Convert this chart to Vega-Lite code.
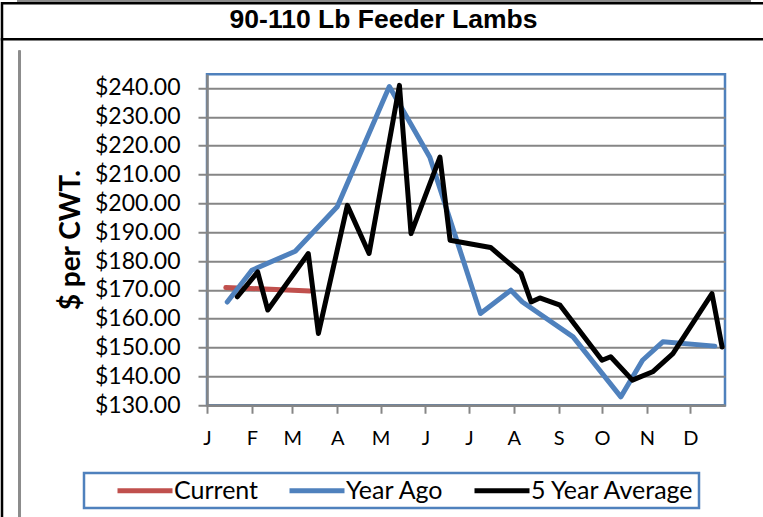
{
  "$schema": "https://vega.github.io/schema/vega-lite/v6.json",
  "padding": {"left": 0, "top": 0, "right": 0, "bottom": 0},
  "background": "white",
  "config": {
    "view": {"stroke": null},
    "font": "Lato"
  },
  "datasets": {
    "titleRow": [{"t": "90-110 Lb Feeder Lambs"}],
    "empty": [],
    "prices": [
      {"series": "Current", "date": "2019-01-14", "value": 170.8},
      {"series": "Current", "date": "2019-02-10", "value": 170.3},
      {"series": "Current", "date": "2019-03-13", "value": 169.6},
      {"series": "Year Ago", "date": "2019-01-15", "value": 165.8},
      {"series": "Year Ago", "date": "2019-02-01", "value": 176.8},
      {"series": "Year Ago", "date": "2019-03-03", "value": 183.4},
      {"series": "Year Ago", "date": "2019-04-01", "value": 198.8},
      {"series": "Year Ago", "date": "2019-05-07", "value": 240.5},
      {"series": "Year Ago", "date": "2019-06-04", "value": 216.0},
      {"series": "Year Ago", "date": "2019-07-09", "value": 161.8},
      {"series": "Year Ago", "date": "2019-07-30", "value": 169.9},
      {"series": "Year Ago", "date": "2019-08-07", "value": 165.8},
      {"series": "Year Ago", "date": "2019-09-11", "value": 153.7},
      {"series": "Year Ago", "date": "2019-10-14", "value": 132.9},
      {"series": "Year Ago", "date": "2019-10-29", "value": 145.6},
      {"series": "Year Ago", "date": "2019-11-12", "value": 152.0},
      {"series": "Year Ago", "date": "2019-12-18", "value": 150.5},
      {"series": "5 Year Average", "date": "2019-01-22", "value": 167.6},
      {"series": "5 Year Average", "date": "2019-02-05", "value": 176.2},
      {"series": "5 Year Average", "date": "2019-02-12", "value": 163.0},
      {"series": "5 Year Average", "date": "2019-03-12", "value": 182.6},
      {"series": "5 Year Average", "date": "2019-03-19", "value": 154.9},
      {"series": "5 Year Average", "date": "2019-04-08", "value": 199.3},
      {"series": "5 Year Average", "date": "2019-04-23", "value": 182.6},
      {"series": "5 Year Average", "date": "2019-05-14", "value": 240.9},
      {"series": "5 Year Average", "date": "2019-05-22", "value": 189.5},
      {"series": "5 Year Average", "date": "2019-06-11", "value": 216.0},
      {"series": "5 Year Average", "date": "2019-06-18", "value": 187.2},
      {"series": "5 Year Average", "date": "2019-07-16", "value": 184.7},
      {"series": "5 Year Average", "date": "2019-08-06", "value": 175.7},
      {"series": "5 Year Average", "date": "2019-08-13", "value": 165.8},
      {"series": "5 Year Average", "date": "2019-08-19", "value": 167.2},
      {"series": "5 Year Average", "date": "2019-09-02", "value": 164.7},
      {"series": "5 Year Average", "date": "2019-10-01", "value": 145.6},
      {"series": "5 Year Average", "date": "2019-10-07", "value": 146.8},
      {"series": "5 Year Average", "date": "2019-10-22", "value": 138.7},
      {"series": "5 Year Average", "date": "2019-11-05", "value": 141.6},
      {"series": "5 Year Average", "date": "2019-11-19", "value": 147.9},
      {"series": "5 Year Average", "date": "2019-12-16", "value": 168.7},
      {"series": "5 Year Average", "date": "2019-12-23", "value": 150.2}
    ]
  },
  "bounds": "flush",
  "spacing": 2.25,
  "vconcat": [
    {
      "bounds": "flush",
      "spacing": 0,
      "hconcat": [
        {"data": {"name": "empty"}, "width": 15.75, "height": 0.01, "view": {"stroke": null}, "mark": {"type": "point", "opacity": 0}, "encoding": {}},
        {"data": {"name": "empty"}, "width": 732, "height": 0.01, "view": {"stroke": "#8c8c8c", "strokeWidth": 2}, "mark": {"type": "point", "opacity": 0}, "encoding": {}}
      ]
    },
    {
      "bounds": "flush",
      "spacing": 0,
      "vconcat": [
        {
          "data": {"name": "titleRow"},
          "width": 763,
          "height": 36,
          "view": {"stroke": "black", "strokeWidth": 2.5},
          "mark": {"type": "text", "font": "Liberation Sans", "fontWeight": "bold", "fontSize": 26.5, "color": "black", "baseline": "middle", "align": "center", "dy": -1.5},
          "encoding": {"text": {"field": "t", "type": "nominal"}}
        },
        {
          "bounds": "flush",
          "spacing": 0,
          "hconcat": [
            {"data": {"name": "empty"}, "width": 0.01, "height": 500, "view": {"stroke": "black", "strokeWidth": 2.5}, "mark": {"type": "point", "opacity": 0}, "encoding": {}},
            {"data": {"name": "empty"}, "width": 15.74, "height": 1, "view": {"stroke": null}, "mark": {"type": "point", "opacity": 0}, "encoding": {}},
            {
              "bounds": "flush",
              "spacing": 0,
              "vconcat": [
                {"data": {"name": "empty"}, "width": 1, "height": 12, "view": {"stroke": null}, "mark": {"type": "point", "opacity": 0}, "encoding": {}},
                {
                  "bounds": "flush",
                  "spacing": 0,
                  "hconcat": [
                    {"data": {"name": "empty"}, "width": 0.01, "height": 480, "view": {"stroke": "#8c8c8c", "strokeWidth": 2}, "mark": {"type": "point", "opacity": 0}, "encoding": {}},
                    {
                      "bounds": "flush",
                      "spacing": 0,
                      "vconcat": [
                        {"data": {"name": "empty"}, "width": 733, "height": 22.75, "view": {"stroke": null}, "mark": {"type": "point", "opacity": 0}, "encoding": {}},
                        {
                          "bounds": "flush",
                          "spacing": 0,
                          "hconcat": [
                            {"data": {"name": "empty"}, "width": 187, "height": 331, "view": {"stroke": null}, "mark": {"type": "point", "opacity": 0}, "encoding": {}},
                            {
                              "data": {"name": "prices"},
                              "width": 518,
                              "height": 331,
                              "view": {"stroke": "#4f81bd", "strokeWidth": 2.5},
                              "mark": {"type": "line", "strokeWidth": 5, "strokeJoin": "round", "strokeCap": "round"},
                              "encoding": {
                                "x": {
                                  "field": "date",
                                  "type": "temporal",
                                  "scale": {
                                    "type": "utc",
                                    "domain": [
                                      {"year": 2019, "month": 1, "date": 1, "utc": true},
                                      {"year": 2019, "month": 12, "date": 25, "utc": true}
                                    ]
                                  },
                                  "axis": {
                                    "title": null,
                                    "tickCount": {"interval": "month", "step": 1},
                                    "format": "%b",
                                    "labelExpr": "substring(datum.label, 0, 1)",
                                    "labelFlush": false,
                                    "labelOverlap": false,
                                    "labelFont": "Lato",
                                    "labelFontSize": 20,
                                    "labelColor": "black",
                                    "labelPadding": 15,
                                    "tickSize": 8,
                                    "tickWidth": 2,
                                    "tickColor": "#868686",
                                    "domainColor": "#868686",
                                    "domainWidth": 2.5,
                                    "grid": false
                                  }
                                },
                                "y": {
                                  "field": "value",
                                  "type": "quantitative",
                                  "scale": {"domain": [130, 244.75], "nice": false, "zero": false},
                                  "axis": {
                                    "title": "$ per CWT.",
                                    "titleFont": "Lato",
                                    "titleFontWeight": "bold",
                                    "titleFontSize": 28,
                                    "titleColor": "black",
                                    "titlePadding": 9,
                                    "values": [130, 140, 150, 160, 170, 180, 190, 200, 210, 220, 230, 240],
                                    "format": "$.2f",
                                    "labelFont": "Lato",
                                    "labelFontSize": 23,
                                    "labelColor": "black",
                                    "labelPadding": 18,
                                    "tickSize": 9,
                                    "tickWidth": 2,
                                    "tickColor": "#868686",
                                    "domainColor": "#868686",
                                    "domainWidth": 2.5,
                                    "grid": true,
                                    "gridColor": "#868686",
                                    "gridWidth": 2
                                  }
                                },
                                "color": {
                                  "field": "series",
                                  "type": "nominal",
                                  "scale": {
                                    "domain": ["Current", "Year Ago", "5 Year Average"],
                                    "range": ["#c0504d", "#4f81bd", "#000000"]
                                  },
                                  "legend": {
                                    "title": null,
                                    "orient": "none",
                                    "legendX": 82,
                                    "legendY": 472,
                                    "direction": "horizontal",
                                    "symbolType": "M-1,0H4",
                                    "symbolStrokeWidth": 5,
                                    "symbolSize": 484,
                                    "symbolOffset": 27,
                                    "labelFont": "Lato",
                                    "labelFontSize": 25,
                                    "labelColor": "black",
                                    "labelOffset": 32,
                                    "labelLimit": 400,
                                    "columnPadding": 1,
                                    "padding": 4,
                                    "strokeColor": "#4f81bd",
                                    "encode": {"legend": {"update": {"strokeWidth": {"value": 2.5}}}}
                                  }
                                }
                              }
                            }
                          ]
                        }
                      ]
                    },
                    {"data": {"name": "empty"}, "width": 0.01, "height": 480, "view": {"stroke": "#8c8c8c", "strokeWidth": 2}, "mark": {"type": "point", "opacity": 0}, "encoding": {}}
                  ]
                }
              ]
            }
          ]
        }
      ]
    }
  ]
}
